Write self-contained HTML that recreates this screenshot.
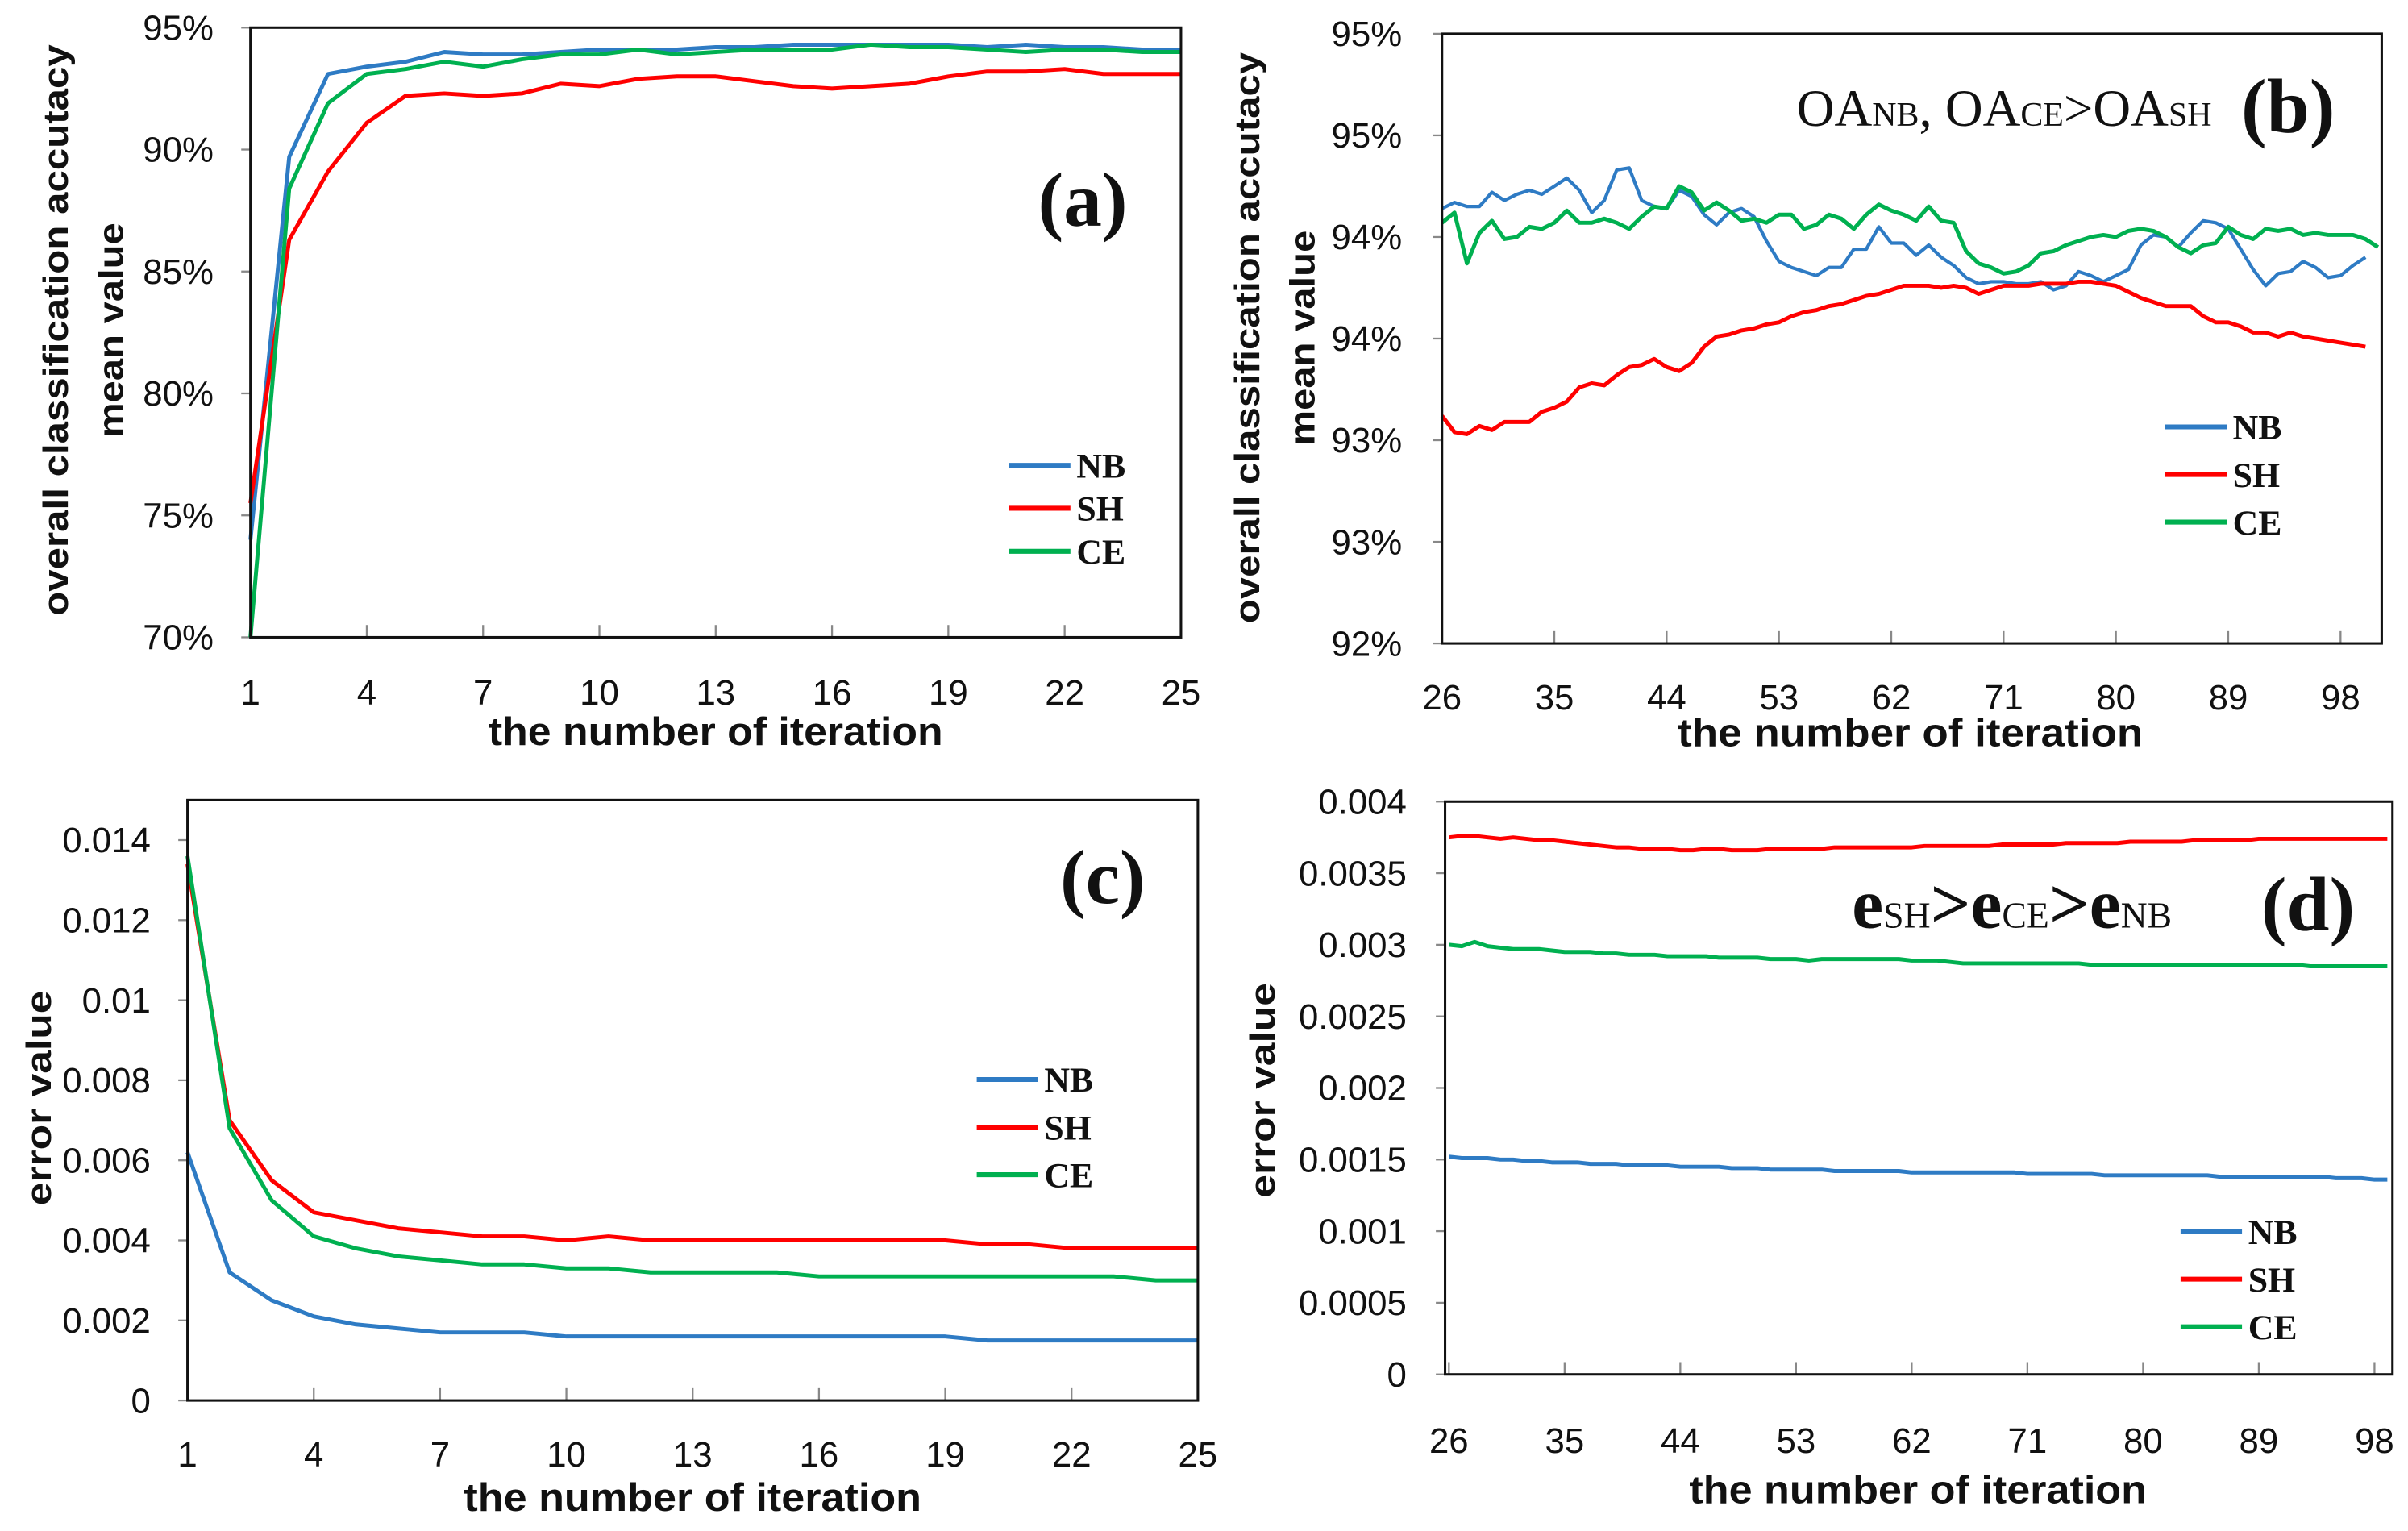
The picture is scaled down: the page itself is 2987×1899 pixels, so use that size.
<!DOCTYPE html>
<html><head><meta charset="utf-8"><style>
html,body{margin:0;padding:0;background:#fff;}
svg{display:block;}
.tk{font-family:"Liberation Sans Narrow","Liberation Sans",sans-serif;font-size:23px;fill:#111;}
.ttl{font-family:"Liberation Sans Narrow","Liberation Sans",sans-serif;font-weight:bold;font-size:26px;fill:#111;}
.yt{font-family:"Liberation Sans",sans-serif;font-weight:bold;font-size:23px;fill:#111;}
.lg{font-family:"Liberation Serif",serif;font-weight:bold;font-size:23px;fill:#111;}
.pl{font-family:"Liberation Serif",serif;font-weight:bold;font-size:50px;fill:#111;}
</style></head><body>
<svg id="fig" width="2987" height="1899" viewBox="0 0 1568 997" xmlns="http://www.w3.org/2000/svg"></svg>
<script>
// ---- data ----
const itersA = [1,2,3,4,5,6,7,8,9,10,11,12,13,14,15,16,17,18,19,20,21,22,23,24,25];
const aNB = [74,89.7,93.1,93.4,93.6,94.0,93.9,93.9,94.0,94.1,94.1,94.1,94.2,94.2,94.3,94.3,94.3,94.3,94.3,94.2,94.3,94.2,94.2,94.1,94.1];
const aSH = [75.5,86.3,89.1,91.1,92.2,92.3,92.2,92.3,92.7,92.6,92.9,93.0,93.0,92.8,92.6,92.5,92.6,92.7,93.0,93.2,93.2,93.3,93.1,93.1,93.1];
const aCE = [70,88.4,91.9,93.1,93.3,93.6,93.4,93.7,93.9,93.9,94.1,93.9,94.0,94.1,94.1,94.1,94.3,94.2,94.2,94.1,94.0,94.1,94.1,94.0,94.0];
const aYTicks = ["70%","75%","80%","85%","90%","95%"];
const xTicksA = [1,4,7,10,13,16,19,22,25];

const bStart = 26;
const bNB = [94.14,94.17,94.15,94.15,94.22,94.18,94.21,94.23,94.21,94.25,94.29,94.23,94.12,94.18,94.33,94.34,94.18,94.15,94.14,94.23,94.20,94.11,94.06,94.12,94.14,94.10,93.98,93.88,93.85,93.83,93.81,93.85,93.85,93.94,93.94,94.05,93.97,93.97,93.91,93.96,93.90,93.86,93.80,93.77,93.78,93.78,93.77,93.77,93.78,93.74,93.76,93.83,93.81,93.78,93.81,93.84,93.96,94.01,94.00,93.95,94.02,94.08,94.07,94.04,93.94,93.84,93.76,93.82,93.83,93.88,93.85,93.80,93.81,93.86,93.90];
const bSH = [93.12,93.04,93.03,93.07,93.05,93.09,93.09,93.09,93.14,93.16,93.19,93.26,93.28,93.27,93.32,93.36,93.37,93.40,93.36,93.34,93.38,93.46,93.51,93.52,93.54,93.55,93.57,93.58,93.61,93.63,93.64,93.66,93.67,93.69,93.71,93.72,93.74,93.76,93.76,93.76,93.75,93.76,93.75,93.72,93.74,93.76,93.76,93.76,93.77,93.77,93.77,93.78,93.78,93.77,93.76,93.73,93.70,93.68,93.66,93.66,93.66,93.61,93.58,93.58,93.56,93.53,93.53,93.51,93.53,93.51,93.50,93.49,93.48,93.47,93.46];
const bCE = [94.07,94.12,93.87,94.02,94.08,93.99,94.00,94.05,94.04,94.07,94.13,94.07,94.07,94.09,94.07,94.04,94.10,94.15,94.14,94.25,94.22,94.13,94.17,94.13,94.08,94.09,94.07,94.11,94.11,94.04,94.06,94.11,94.09,94.04,94.11,94.16,94.13,94.11,94.08,94.15,94.08,94.07,93.93,93.87,93.85,93.82,93.83,93.86,93.92,93.93,93.96,93.98,94.00,94.01,94.00,94.03,94.04,94.03,94.00,93.95,93.92,93.96,93.97,94.05,94.01,93.99,94.04,94.03,94.04,94.01,94.02,94.01,94.01,94.01,93.99,93.95];
const bYTicks = ["92%","93%","93%","94%","94%","95%","95%"];
const xTicksB = [26,35,44,53,62,71,80,89,98];

const cNB = [0.0062,0.0032,0.0025,0.0021,0.0019,0.0018,0.0017,0.0017,0.0017,0.0016,0.0016,0.0016,0.0016,0.0016,0.0016,0.0016,0.0016,0.0016,0.0016,0.0015,0.0015,0.0015,0.0015,0.0015,0.0015];
const cSH = [0.0134,0.0070,0.0055,0.0047,0.0045,0.0043,0.0042,0.0041,0.0041,0.0040,0.0041,0.0040,0.0040,0.0040,0.0040,0.0040,0.0040,0.0040,0.0040,0.0039,0.0039,0.0038,0.0038,0.0038,0.0038];
const cCE = [0.0136,0.0068,0.0050,0.0041,0.0038,0.0036,0.0035,0.0034,0.0034,0.0033,0.0033,0.0032,0.0032,0.0032,0.0032,0.0031,0.0031,0.0031,0.0031,0.0031,0.0031,0.0031,0.0031,0.0030,0.0030];
const cYTicks = ["0","0.002","0.004","0.006","0.008","0.01","0.012","0.014"];

const dSH = [0.00375,0.00376,0.00376,0.00375,0.00374,0.00375,0.00374,0.00373,0.00373,0.00372,0.00371,0.00370,0.00369,0.00368,0.00368,0.00367,0.00367,0.00367,0.00366,0.00366,0.00367,0.00367,0.00366,0.00366,0.00366,0.00367,0.00367,0.00367,0.00367,0.00367,0.00368,0.00368,0.00368,0.00368,0.00368,0.00368,0.00368,0.00369,0.00369,0.00369,0.00369,0.00369,0.00369,0.00370,0.00370,0.00370,0.00370,0.00370,0.00371,0.00371,0.00371,0.00371,0.00371,0.00372,0.00372,0.00372,0.00372,0.00372,0.00373,0.00373,0.00373,0.00373,0.00373,0.00374,0.00374,0.00374,0.00374,0.00374,0.00374,0.00374,0.00374,0.00374,0.00374,0.00374];
const dCE = [0.00300,0.00299,0.00302,0.00299,0.00298,0.00297,0.00297,0.00297,0.00296,0.00295,0.00295,0.00295,0.00294,0.00294,0.00293,0.00293,0.00293,0.00292,0.00292,0.00292,0.00292,0.00291,0.00291,0.00291,0.00291,0.00290,0.00290,0.00290,0.00289,0.00290,0.00290,0.00290,0.00290,0.00290,0.00290,0.00290,0.00289,0.00289,0.00289,0.00288,0.00287,0.00287,0.00287,0.00287,0.00287,0.00287,0.00287,0.00287,0.00287,0.00287,0.00286,0.00286,0.00286,0.00286,0.00286,0.00286,0.00286,0.00286,0.00286,0.00286,0.00286,0.00286,0.00286,0.00286,0.00286,0.00286,0.00286,0.00285,0.00285,0.00285,0.00285,0.00285,0.00285,0.00285];
const dNB = [0.00152,0.00151,0.00151,0.00151,0.00150,0.00150,0.00149,0.00149,0.00148,0.00148,0.00148,0.00147,0.00147,0.00147,0.00146,0.00146,0.00146,0.00146,0.00145,0.00145,0.00145,0.00145,0.00144,0.00144,0.00144,0.00143,0.00143,0.00143,0.00143,0.00143,0.00142,0.00142,0.00142,0.00142,0.00142,0.00142,0.00141,0.00141,0.00141,0.00141,0.00141,0.00141,0.00141,0.00141,0.00141,0.00140,0.00140,0.00140,0.00140,0.00140,0.00140,0.00139,0.00139,0.00139,0.00139,0.00139,0.00139,0.00139,0.00139,0.00139,0.00138,0.00138,0.00138,0.00138,0.00138,0.00138,0.00138,0.00138,0.00138,0.00137,0.00137,0.00137,0.00136,0.00136];
const dYTicks = ["0","0.0005","0.001","0.0015","0.002","0.0025","0.003","0.0035","0.004"];

// ---- drawing ----
const NS = "http://www.w3.org/2000/svg";
const svg = document.getElementById('fig');
function mk(tag, attrs, parent){const e=document.createElementNS(NS,tag);for(const k in attrs)e.setAttribute(k,attrs[k]);(parent||svg).appendChild(e);return e;}
const COL = {NB:"#2e7bc4",SH:"#ff0000",CE:"#00b050"};

function panel(o){
  const g = mk('g',{});
  
  
  const X = v => o.x0 + (v - o.xmin)/(o.xmax - o.xmin)*(o.x1 - o.x0);
  const Y = v => o.y1 - (v - o.ymin)/(o.ymax - o.ymin)*(o.y1 - o.y0);
  const yStepPx = o.yStepPx || (o.y1-o.y0)/(o.yLabels.length-1);
  o.yLabels.forEach((lab,i)=>{
    const yy = o.y1 - i*yStepPx;
    mk('line',{x1:o.x0-6,x2:o.x0,y1:yy,y2:yy,stroke:'#888','stroke-width':1.2},g);
    const t = mk('text',{x:o.yLabX,y:yy+8,'text-anchor':'end',class:'tk'},g);
    t.textContent = lab;
    
    
  });
  o.xTicks.forEach(v=>{
    const xx = X(v);
    mk('line',{x1:xx,x2:xx,y1:o.y1,y2:o.y1-8,stroke:'#888','stroke-width':1.2},g);
    const t = mk('text',{x:xx,y:o.xLabY,'text-anchor':'middle',class:'tk'},g);
    t.textContent = v;
    
    
  });
  o.series.forEach(s=>{
    let d='';
    s.vals.forEach((v,i)=>{ d += (i?'L':'M') + X(o.xStart+i).toFixed(2) + ',' + Y(v).toFixed(2); });
    const p = mk('path',{d:d,fill:'none',stroke:COL[s.k],'stroke-width':s.w||2.6,'stroke-linejoin':'round'},g);
    
    
  });
  const fr = mk('rect',{x:o.x0,y:o.y0,width:o.x1-o.x0,height:o.y1-o.y0,fill:'none',stroke:'#111','stroke-width':1.6},g);
  
  
  const xt = mk('text',{x:o.xtX,y:o.xtY,'text-anchor':'middle',class:'ttl',textLength:o.xtW,lengthAdjust:'spacingAndGlyphs'},g);
  xt.textContent = o.xTitle;
  
  
  o.yTitles.forEach(yt=>{
    const t = mk('text',{x:0,y:0,'text-anchor':'middle',class:'yt',transform:`translate(${yt.x},${yt.cy}) rotate(-90)`,textLength:yt.w,lengthAdjust:'spacingAndGlyphs'},g);
    t.textContent = yt.t;
    
    
  });
  ['NB','SH','CE'].forEach((k,i)=>{
    const ly = o.lgY + i*o.lgDy;
    const lg = mk('g',{},g);
    
    
    mk('line',{x1:o.lgX,x2:o.lgX+40,y1:ly,y2:ly,stroke:COL[k],'stroke-width':3.2},lg);
    const t = mk('text',{x:o.lgX+44,y:ly+8,class:'lg'},lg);
    t.textContent = k;
  });
  const pl = mk('text',{x:o.plX,y:o.plY,'text-anchor':'middle',class:'pl'},g);
  pl.textContent = o.label;
  
  
  return g;
}

panel({name:'chart-a',x0:163,x1:769,y0:18,y1:415,xmin:1,xmax:25,ymin:70,ymax:95,xStart:1,
  yLabels:aYTicks,yLabX:139,xTicks:xTicksA,xLabY:459,
  series:[{k:'NB',vals:aNB},{k:'SH',vals:aSH},{k:'CE',vals:aCE}],
  xTitle:'the number of iteration',xtX:466,xtY:485,xtW:296,
  yTitles:[{t:'overall classification accutacy',x:44,cy:215,w:372},{t:'mean value',x:80,cy:215,w:140}],
  lgX:657,lgY:303,lgDy:28,label:'(a)',plX:705,plY:147});

panel({name:'chart-b',x0:939,x1:1551,y0:22,y1:419,xmin:26,xmax:101.3,ymin:92,ymax:95,xStart:26,
  yLabels:bYTicks,yLabX:913,xTicks:xTicksB,xLabY:462,
  series:[{k:'NB',vals:bNB,w:2.2},{k:'SH',vals:bSH},{k:'CE',vals:bCE}],
  xTitle:'the  number of iteration',xtX:1244,xtY:486,xtW:303,
  yTitles:[{t:'overall classification accutacy',x:820,cy:220,w:372},{t:'mean value',x:856,cy:220,w:140}],
  lgX:1410,lgY:278,lgDy:31,label:'(b)',plX:1490,plY:86});

panel({name:'chart-c',x0:122,x1:780,y0:521,y1:912,xmin:1,xmax:25,ymin:0,ymax:0.015,xStart:1,
  yLabels:cYTicks,yStepPx:0.002/0.015*391,yLabX:98,xTicks:xTicksA,xLabY:955,
  series:[{k:'NB',vals:cNB},{k:'SH',vals:cSH},{k:'CE',vals:cCE}],
  xTitle:'the number of iteration',xtX:451,xtY:984,xtW:298,
  yTitles:[{t:'error value',x:33,cy:715,w:140}],
  lgX:636,lgY:703,lgDy:31,label:'(c)',plX:718,plY:588});

panel({name:'chart-d',x0:941,x1:1558,y0:522,y1:895,xmin:25.7,xmax:99.4,ymin:0,ymax:0.004,xStart:26,
  yLabels:dYTicks,yLabX:916,xTicks:xTicksB,xLabY:946,
  series:[{k:'NB',vals:dNB},{k:'SH',vals:dSH},{k:'CE',vals:dCE}],
  xTitle:'the number of iteration',xtX:1249,xtY:979,xtW:298,
  yTitles:[{t:'error value',x:830,cy:710,w:140}],
  lgX:1420,lgY:802,lgDy:31,label:'(d)',plX:1503,plY:606});

const ann1 = mk('text',{x:1170,y:82,style:'font-family:"Liberation Serif",serif;font-size:34px;fill:#111'});


ann1.innerHTML = 'OA<tspan font-size="22">NB</tspan>, OA<tspan font-size="22">CE</tspan>&gt;OA<tspan font-size="22">SH</tspan>';
const ann2 = mk('text',{x:1206,y:604,style:'font-family:"Liberation Serif",serif;font-weight:bold;font-size:46px;fill:#111'});


ann2.innerHTML = 'e<tspan font-size="24" font-weight="normal">SH</tspan>&gt;e<tspan font-size="24" font-weight="normal">CE</tspan>&gt;e<tspan font-size="24" font-weight="normal">NB</tspan>';
</script>
</body></html>
